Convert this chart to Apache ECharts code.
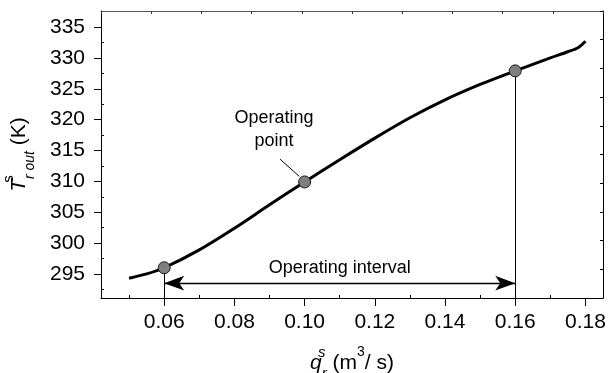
<!DOCTYPE html>
<html>
<head>
<meta charset="utf-8">
<script src="https://cdn.jsdelivr.net/npm/echarts@6/dist/echarts.min.js"></script>
<style>
  html, body { margin: 0; padding: 0; background: #ffffff; }
  #chart { width: 616px; height: 373px; }
</style>
</head>
<body>
<div id="chart"></div>
<script>
// Steady-state outlet temperature against coolant flow rate
const flowRate   = [0.05, 0.055, 0.06, 0.07, 0.08, 0.09, 0.10, 0.11, 0.12, 0.13, 0.14, 0.15, 0.16, 0.17, 0.175, 0.178, 0.18];
const outletTemp = [294.3, 295.0, 296.0, 298.9, 302.4, 306.2, 309.9, 313.5, 317.0, 320.3, 323.2, 325.7, 327.9, 330.0, 331.0, 331.7, 332.7];

// Highlighted points: lower bound, nominal operating point, upper bound
const operatingFlow = [0.06, 0.10, 0.16];
const operatingTemp = [296.0, 309.9, 327.9];

// Axis extents and tick positions
const xRange = [0.042, 0.185];
const yRange = [291.1, 337.6];
const xTicks = [0.06, 0.08, 0.10, 0.12, 0.14, 0.16, 0.18];
const xMinorTicks = [0.05, 0.07, 0.09, 0.11, 0.13, 0.15, 0.17];
const yTicks = [295, 300, 305, 310, 315, 320, 325, 330, 335];
const yMinorTicks = [292.5, 297.5, 302.5, 307.5, 312.5, 317.5, 322.5, 327.5, 332.5];

// Annotations
const intervalLevel = 293.5;
const intervalText = 'Operating interval';
const pointText = 'Operating\npoint';
const pointTextAt = [0.0913, 318.4];
const pointLeader = [[0.093, 313.6], [0.0985, 310.8]];

const FONT = '"Liberation Sans", Arial, Helvetica, sans-serif';
const BLACK = '#000000';

const curve = flowRate.map((x, i) => [x, outletTemp[i]]);
const marks = operatingFlow.map((x, i) => [x, operatingTemp[i]]);
const lo = 0, hi = operatingFlow.length - 1;

const chart = echarts.init(document.getElementById('chart'), null, { renderer: 'canvas' });

const baseX = {
  type: 'value', min: xRange[0], max: xRange[1],
  splitLine: { show: false }
};
const baseY = {
  type: 'value', min: yRange[0], max: yRange[1],
  splitLine: { show: false }
};

chart.setOption({
  animation: false,
  backgroundColor: '#ffffff',
  textStyle: { fontFamily: FONT },
  grid: { left: 101, top: 11, right: 13, bottom: 75, containLabel: false, outerBoundsMode: 'none' },
  xAxis: [
    Object.assign({}, baseX, {
      position: 'bottom',
      axisLine: { show: true, lineStyle: { color: BLACK, width: 1 } },
      axisTick: { show: true, inside: false, length: 8, customValues: xTicks, lineStyle: { color: BLACK, width: 1 } },
      axisLabel: {
        show: true, customValues: xTicks, margin: 14,
        fontFamily: FONT, fontSize: 21, color: BLACK,
        formatter: v => v.toFixed(2)
      },
      name: '{qi|q}{supi|s}{sub|r}{t| (m}{sup|3}{t|/ s)}',
      nameLocation: 'middle',
      nameGap: 47,
      nameTextStyle: {
        fontFamily: FONT, fontSize: 21, color: BLACK,
        rich: {
          qi:   { fontFamily: FONT, fontSize: 21, fontStyle: 'italic', lineHeight: 36, color: BLACK },
          t:    { fontFamily: FONT, fontSize: 21, lineHeight: 36, color: BLACK },
          supi: { fontFamily: FONT, fontSize: 15, fontStyle: 'italic', verticalAlign: 'top', lineHeight: 12, width: 0, color: BLACK },
          sup:  { fontFamily: FONT, fontSize: 14, verticalAlign: 'top', lineHeight: 12, color: BLACK },
          sub:  { fontFamily: FONT, fontSize: 15, fontStyle: 'italic', verticalAlign: 'bottom', lineHeight: 18, color: BLACK }
        }
      }
    }),
    Object.assign({}, baseX, {
      position: 'bottom',
      axisLine: { show: false },
      axisTick: { show: true, inside: true, length: 3, customValues: xMinorTicks, lineStyle: { color: BLACK, width: 1 } },
      axisLabel: { show: false }
    }),
    {
      type: 'value', position: 'top', min: 0, max: 10, interval: 1,
      splitLine: { show: false },
      axisLine: { show: true, lineStyle: { color: '#555555', width: 1 } },
      axisTick: { show: true, inside: true, length: 3, lineStyle: { color: '#333333', width: 1 } },
      axisLabel: { show: false }
    }
  ],
  yAxis: [
    Object.assign({}, baseY, {
      position: 'left',
      axisLine: { show: true, lineStyle: { color: BLACK, width: 1 } },
      axisTick: { show: true, inside: false, length: 7, customValues: yTicks, lineStyle: { color: BLACK, width: 1 } },
      axisLabel: {
        show: true, customValues: yTicks, margin: 16,
        fontFamily: FONT, fontSize: 21, color: BLACK
      },
      name: '{ti|T}{supi|s}{sub|r out}{t| (K)}',
      nameLocation: 'middle',
      nameRotate: 90,
      nameGap: 64,
      nameTextStyle: {
        fontFamily: FONT, fontSize: 21, color: BLACK,
        rich: {
          ti:   { fontFamily: FONT, fontSize: 21, fontStyle: 'italic', lineHeight: 36, color: BLACK },
          t:    { fontFamily: FONT, fontSize: 21, lineHeight: 36, color: BLACK },
          supi: { fontFamily: FONT, fontSize: 15, verticalAlign: 'top', lineHeight: 12, width: 0, color: BLACK },
          sub:  { fontFamily: FONT, fontSize: 14, fontStyle: 'italic', verticalAlign: 'bottom', lineHeight: 18, color: BLACK }
        }
      }
    }),
    Object.assign({}, baseY, {
      position: 'left',
      axisLine: { show: false },
      axisTick: { show: true, inside: true, length: 3, customValues: yMinorTicks, lineStyle: { color: BLACK, width: 1 } },
      axisLabel: { show: false }
    }),
    {
      type: 'value', position: 'right', min: 0, max: 10, interval: 1,
      splitLine: { show: false },
      axisLine: { show: true, lineStyle: { color: BLACK, width: 1 } },
      axisTick: { show: true, inside: true, length: 3, lineStyle: { color: BLACK, width: 1 } },
      axisLabel: { show: false }
    }
  ],
  series: [
    {
      name: 'outlet temperature',
      type: 'line',
      xAxisIndex: 0, yAxisIndex: 0,
      data: curve,
      smooth: 0.3,
      showSymbol: false,
      symbol: 'none',
      lineStyle: { color: BLACK, width: 3 },
      z: 3
    },
    {
      name: 'drop lines',
      type: 'scatter',
      xAxisIndex: 0, yAxisIndex: 0,
      data: [],
      markLine: {
        silent: true,
        symbol: 'none',
        label: { show: false },
        lineStyle: { color: BLACK, width: 1, type: 'solid', opacity: 1 },
        data: [
          [{ coord: [operatingFlow[lo], operatingTemp[lo]] }, { coord: [operatingFlow[lo], yRange[0]] }],
          [{ coord: [operatingFlow[hi], operatingTemp[hi]] }, { coord: [operatingFlow[hi], yRange[0]] }],
          [{ coord: pointLeader[0] }, { coord: pointLeader[1] }]
        ]
      },
      z: 2
    },
    {
      name: 'interval arrow',
      type: 'scatter',
      xAxisIndex: 0, yAxisIndex: 0,
      data: [],
      markLine: {
        silent: true,
        symbol: ['arrow', 'arrow'],
        symbolSize: [11, 20],
        lineStyle: { color: BLACK, width: 1.3, type: 'solid', opacity: 1 },
        itemStyle: { color: BLACK, opacity: 1 },
        label: {
          show: true, position: 'middle', distance: 6,
          formatter: intervalText,
          fontFamily: FONT, fontSize: 18, color: BLACK
        },
        data: [
          [{ coord: [operatingFlow[lo], intervalLevel] }, { coord: [operatingFlow[hi], intervalLevel] }]
        ]
      },
      z: 2
    },
    {
      name: 'operating points',
      type: 'scatter',
      xAxisIndex: 0, yAxisIndex: 0,
      data: marks,
      symbol: 'circle',
      symbolSize: 12,
      itemStyle: { color: '#7f7f7f', borderColor: '#1a1a1a', borderWidth: 1, opacity: 1 },
      z: 5
    },
    {
      name: 'point caption',
      type: 'scatter',
      xAxisIndex: 0, yAxisIndex: 0,
      data: [pointTextAt],
      symbolSize: 0,
      itemStyle: { color: BLACK, opacity: 1 },
      label: {
        show: true, position: 'inside',
        formatter: pointText,
        fontFamily: FONT, fontSize: 18, lineHeight: 23, color: BLACK,
        textBorderWidth: 0, textShadowBlur: 0
      },
      z: 4
    }
  ]
});
</script>
</body>
</html>
